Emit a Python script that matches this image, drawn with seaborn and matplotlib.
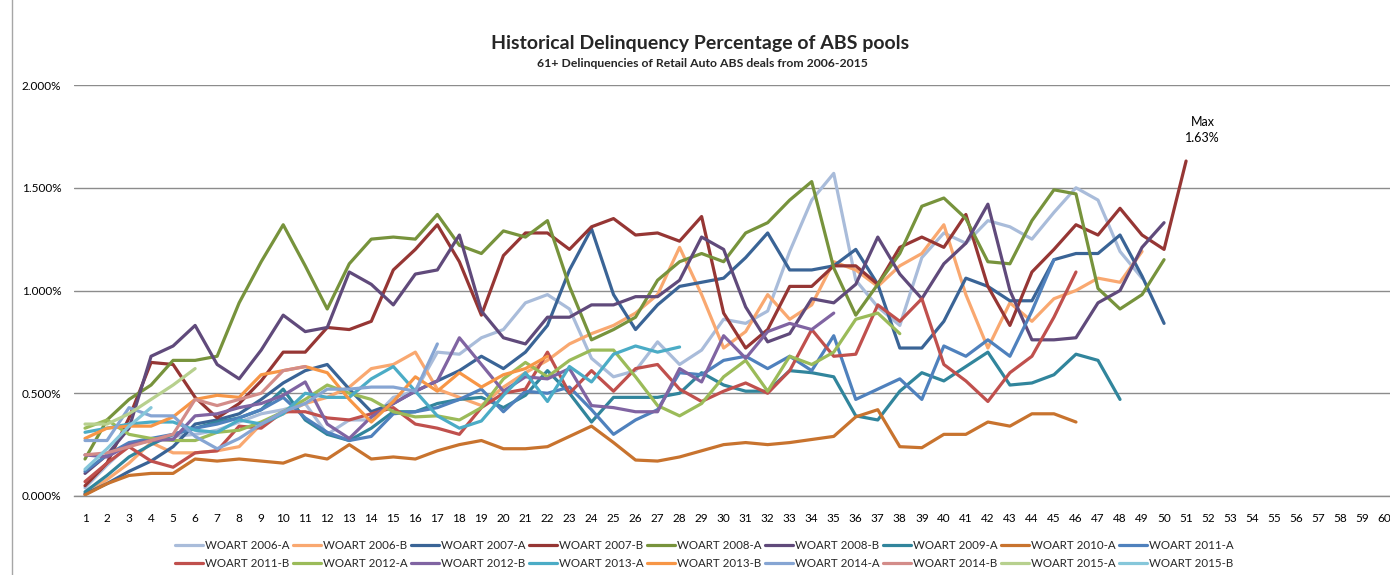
import numpy as np
import matplotlib
matplotlib.use("Agg")
import matplotlib.pyplot as plt
import pandas as pd
import seaborn as sns
from matplotlib.ticker import FuncFormatter

# deal names and line colours (legend order)
deals = ["WOART 2006-A", "WOART 2006-B", "WOART 2007-A", "WOART 2007-B", "WOART 2008-A",
         "WOART 2008-B", "WOART 2009-A", "WOART 2010-A", "WOART 2011-A", "WOART 2011-B",
         "WOART 2012-A", "WOART 2012-B", "WOART 2013-A", "WOART 2013-B", "WOART 2014-A",
         "WOART 2014-B", "WOART 2015-A", "WOART 2015-B"]
colors = ["#A9BCDA", "#F9A870", "#3A6496", "#963634", "#77933C", "#604A7B",
          "#31859C", "#C8732E", "#4F81BD", "#C0504D", "#9BBB59", "#8064A2",
          "#4BACC6", "#F79646", "#86A5D3", "#D38C89", "#B7D08E", "#86C7DA"]

# 61+ delinquency (%) by month since issuance
w2006a = [0.04, 0.15, 0.25, 0.27, 0.29, 0.30, 0.32, 0.36, 0.40, 0.42, 0.45, 0.30, 0.37, 0.37, 0.48,
          0.51, 0.70, 0.69, 0.77, 0.81, 0.94, 0.98, 0.91, 0.67, 0.58, 0.61, 0.75, 0.64, 0.71, 0.86,
          0.84, 0.90, 1.19, 1.44, 1.57, 1.05, 0.92, 0.83, 1.16, 1.28, 1.23, 1.34, 1.31, 1.25, 1.38,
          1.50, 1.44, 1.19, 1.06]
w2006b = [0.01, 0.08, 0.16, 0.26, 0.21, 0.21, 0.22, 0.24, 0.35, 0.40, 0.45, 0.48, 0.53, 0.62, 0.64,
          0.70, 0.52, 0.48, 0.44, 0.53, 0.60, 0.66, 0.74, 0.79, 0.83, 0.89, 0.98, 1.21, 0.98, 0.72,
          0.80, 0.98, 0.86, 0.93, 1.14, 1.10, 1.02, 1.12, 1.18, 1.32, 0.98, 0.72, 0.94, 0.85, 0.96,
          1.00, 1.06, 1.04, 1.19]
w2007a = [0.01, 0.06, 0.12, 0.17, 0.24, 0.35, 0.37, 0.40, 0.47, 0.55, 0.61, 0.64, 0.52, 0.41, 0.45,
          0.51, 0.56, 0.61, 0.68, 0.62, 0.70, 0.83, 1.10, 1.30, 0.98, 0.81, 0.93, 1.02, 1.04, 1.06,
          1.16, 1.28, 1.10, 1.10, 1.12, 1.20, 1.03, 0.72, 0.72, 0.85, 1.06, 1.02, 0.95, 0.95, 1.15,
          1.18, 1.18, 1.27, 1.07, 0.84]
w2007b = [0.05, 0.16, 0.38, 0.65, 0.64, 0.48, 0.38, 0.45, 0.56, 0.70, 0.70, 0.82, 0.81, 0.85, 1.10,
          1.20, 1.32, 1.14, 0.88, 1.17, 1.28, 1.28, 1.20, 1.31, 1.35, 1.27, 1.28, 1.24, 1.36, 0.89,
          0.72, 0.81, 1.02, 1.02, 1.12, 1.12, 1.03, 1.21, 1.26, 1.21, 1.37, 1.02, 0.83, 1.09, 1.20,
          1.32, 1.27, 1.40, 1.27, 1.20, 1.63]
w2008a = [0.18, 0.37, 0.47, 0.54, 0.66, 0.66, 0.68, 0.94, 1.14, 1.32, 1.12, 0.91, 1.13, 1.25, 1.26,
          1.25, 1.37, 1.22, 1.18, 1.29, 1.26, 1.34, 1.02, 0.76, 0.81, 0.87, 1.05, 1.14, 1.18, 1.14,
          1.28, 1.33, 1.44, 1.53, 1.11, 0.88, 1.03, 1.18, 1.41, 1.45, 1.35, 1.14, 1.13, 1.34, 1.49,
          1.47, 1.01, 0.91, 0.98, 1.15]
w2008b = [0.11, 0.20, 0.33, 0.68, 0.73, 0.83, 0.64, 0.57, 0.71, 0.88, 0.80, 0.82, 1.09, 1.03, 0.93,
          1.08, 1.10, 1.27, 0.90, 0.77, 0.74, 0.87, 0.87, 0.93, 0.93, 0.97, 0.97, 1.05, 1.26, 1.20,
          0.92, 0.75, 0.79, 0.96, 0.94, 1.03, 1.26, 1.08, 0.96, 1.13, 1.23, 1.42, 1.00, 0.76, 0.76,
          0.77, 0.94, 1.00, 1.21, 1.33]
w2009a = [0.02, 0.10, 0.19, 0.25, 0.30, 0.33, 0.36, 0.38, 0.42, 0.52, 0.37, 0.30, 0.27, 0.33, 0.41,
          0.41, 0.45, 0.47, 0.48, 0.43, 0.49, 0.61, 0.50, 0.36, 0.48, 0.48, 0.48, 0.50, 0.60, 0.54,
          0.51, 0.51, 0.61, 0.60, 0.58, 0.39, 0.37, 0.51, 0.60, 0.56, 0.63, 0.70, 0.54, 0.55, 0.59,
          0.69, 0.66, 0.47]
w2010a = [0.005, 0.06, 0.10, 0.11, 0.11, 0.18, 0.17, 0.18, 0.17, 0.16, 0.20, 0.18, 0.25, 0.18, 0.19,
          0.18, 0.22, 0.25, 0.27, 0.23, 0.23, 0.24, 0.29, 0.34, 0.26, 0.175, 0.17, 0.19, 0.22, 0.25,
          0.26, 0.25, 0.26, 0.275, 0.29, 0.385, 0.42, 0.24, 0.235, 0.30, 0.30, 0.36, 0.34, 0.40, 0.40,
          0.36]
w2011a = [0.12, 0.20, 0.26, 0.28, 0.30, 0.33, 0.35, 0.38, 0.42, 0.48, 0.38, 0.31, 0.27, 0.29, 0.40,
          0.41, 0.43, 0.47, 0.52, 0.41, 0.51, 0.50, 0.53, 0.42, 0.30, 0.37, 0.42, 0.60, 0.59, 0.66,
          0.68, 0.62, 0.68, 0.61, 0.78, 0.47, 0.52, 0.57, 0.47, 0.73, 0.68, 0.76, 0.68, 0.90, 1.15]
w2011b = [0.07, 0.16, 0.24, 0.17, 0.14, 0.21, 0.22, 0.34, 0.33, 0.41, 0.41, 0.38, 0.37, 0.40, 0.43,
          0.35, 0.33, 0.30, 0.43, 0.50, 0.52, 0.70, 0.50, 0.61, 0.51, 0.62, 0.64, 0.52, 0.46, 0.51,
          0.55, 0.50, 0.61, 0.81, 0.68, 0.69, 0.93, 0.85, 0.96, 0.64, 0.56, 0.46, 0.60, 0.68, 0.87,
          1.09]
w2012a = [0.33, 0.37, 0.30, 0.28, 0.27, 0.27, 0.31, 0.32, 0.36, 0.41, 0.47, 0.54, 0.50, 0.47, 0.41,
          0.385, 0.39, 0.37, 0.43, 0.57, 0.65, 0.58, 0.66, 0.71, 0.71, 0.58, 0.44, 0.39, 0.45, 0.58,
          0.66, 0.51, 0.68, 0.64, 0.70, 0.86, 0.89, 0.79]
w2012b = [0.20, 0.19, 0.25, 0.27, 0.275, 0.39, 0.40, 0.43, 0.45, 0.49, 0.555, 0.35, 0.28, 0.385, 0.45,
          0.51, 0.56, 0.77, 0.64, 0.51, 0.58, 0.57, 0.62, 0.44, 0.43, 0.41, 0.41, 0.62, 0.555, 0.78,
          0.67, 0.80, 0.84, 0.81, 0.89]
w2013a = [0.31, 0.33, 0.35, 0.36, 0.36, 0.32, 0.31, 0.37, 0.35, 0.40, 0.50, 0.48, 0.48, 0.57, 0.63,
          0.51, 0.39, 0.33, 0.365, 0.49, 0.60, 0.46, 0.63, 0.555, 0.69, 0.73, 0.70, 0.725]
w2013b = [0.28, 0.33, 0.34, 0.34, 0.385, 0.47, 0.49, 0.48, 0.59, 0.61, 0.63, 0.60, 0.47, 0.36, 0.46,
          0.58, 0.51, 0.60, 0.53, 0.59, 0.62, 0.68]
w2014a = [0.27, 0.27, 0.43, 0.39, 0.39, 0.29, 0.23, 0.28, 0.35, 0.41, 0.45, 0.52, 0.52, 0.53, 0.53,
          0.51, 0.74]
w2014b = [0.20, 0.21, 0.24, 0.27, 0.30, 0.47, 0.44, 0.47, 0.50, 0.61, 0.63]
w2015a = [0.35, 0.35, 0.40, 0.47, 0.54, 0.62]
w2015b = [0.13, 0.23, 0.34, 0.43]

series = [w2006a, w2006b, w2007a, w2007b, w2008a, w2008b, w2009a, w2010a, w2011a,
          w2011b, w2012a, w2012b, w2013a, w2013b, w2014a, w2014b, w2015a, w2015b]
months = list(range(1, 61))

rows = []
for name, vals in zip(deals, series):
    for m, v in enumerate(vals, start=1):
        rows.append((name, m, v))
df = pd.DataFrame(rows, columns=["deal", "month", "pct"])

sns.set_style("white")
plt.rcParams["font.family"] = ["Lato", "DejaVu Sans"]

fig = plt.figure(figsize=(13.9, 5.75), dpi=100)
ax = fig.add_axes([74 / 1390, 79 / 575, 1316 / 1390, 411 / 575])

sns.lineplot(data=df, x="month", y="pct", hue="deal", hue_order=deals,
             palette=dict(zip(deals, colors)), linewidth=2.3, errorbar=None,
             ax=ax, legend=True)

ax.set_xlim(0.5, 60.26)
ax.set_ylim(0, 2.0)
ax.set_xticks(months)
ax.set_yticks([0, 0.5, 1.0, 1.5, 2.0])
ax.yaxis.set_major_formatter(FuncFormatter(lambda v, p: "{:.3f}%".format(v)))
ax.tick_params(axis="x", length=0, pad=12, labelsize=8.5, colors="#000000")
ax.tick_params(axis="y", length=0, pad=9, labelsize=8.5, colors="#000000")
ax.set_xlabel("")
ax.set_ylabel("")
ax.grid(axis="y", color="#8C8C8C", linewidth=1)
ax.set_axisbelow(True)
for s in ["top", "right", "left"]:
    ax.spines[s].set_visible(False)
ax.spines["bottom"].set_color("#8C8C8C")
ax.spines["bottom"].set_linewidth(1)

# max annotation
ax.annotate("Max\n1.63%", xy=(51, 1.63), xytext=(12, 12), textcoords="offset points",
            ha="center", va="bottom", fontsize=9, linespacing=1.4, color="#000000")

fig.text(0.504, 0.925, "Historical Delinquency Percentage of ABS pools",
         ha="center", va="center", fontsize=14, fontweight="bold")
fig.text(0.505, 0.890, "61+ Delinquencies of Retail Auto ABS deals from 2006-2015",
         ha="center", va="center", fontsize=8.8, fontweight="bold")

# legend laid out row by row (9 per row)
handles, labels = ax.get_legend_handles_labels()
order = []
for i in range(9):
    order += [i, i + 9]
ax.legend([handles[i] for i in order], [labels[i] for i in order], ncol=9,
          loc="center", bbox_to_anchor=(0.507, 0.035), bbox_transform=fig.transFigure,
          frameon=False, fontsize=8.3, handlelength=2.4, handletextpad=0.2,
          columnspacing=0.3, labelspacing=0.6)

# chart frame
fig.add_artist(plt.Rectangle((12 / 1390, -0.01), 1.0, 1.02, transform=fig.transFigure,
                             fill=False, edgecolor="#A6A6A6", linewidth=1))

fig.savefig("out.png", dpi=100)
